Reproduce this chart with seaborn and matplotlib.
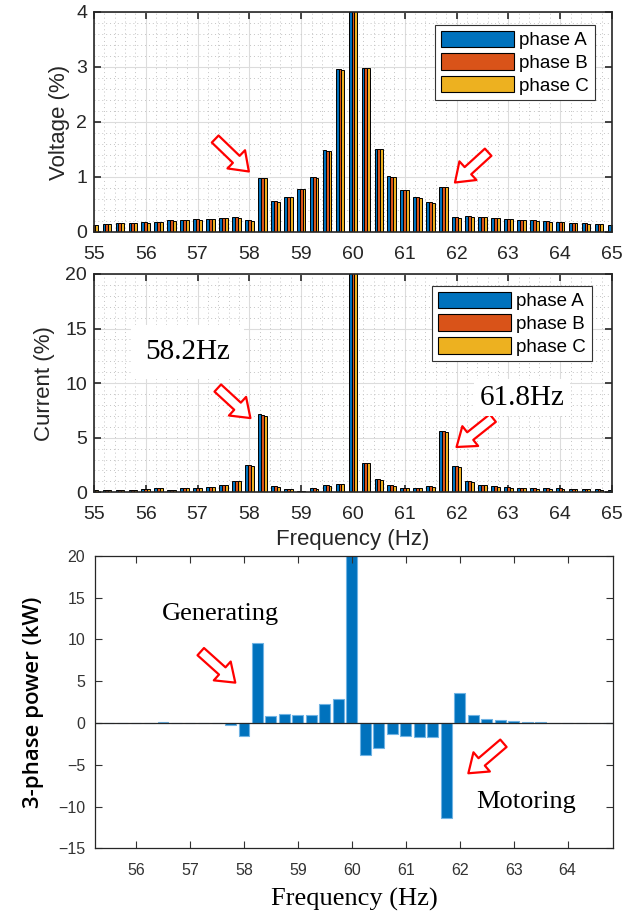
import numpy as np
import pandas as pd
import matplotlib
matplotlib.use('Agg')
import matplotlib.pyplot as plt
import seaborn as sns
from matplotlib.ticker import MultipleLocator
from matplotlib.patches import Patch

# frequency bins (Hz)
freq = [55.0, 55.25, 55.5, 55.75, 56.0, 56.25, 56.5, 56.75, 57.0, 57.25, 57.5, 57.75,
        58.0, 58.25, 58.5, 58.75, 59.0, 59.25, 59.5, 59.75, 60.0, 60.25, 60.5, 60.75,
        61.0, 61.25, 61.5, 61.75, 62.0, 62.25, 62.5, 62.75, 63.0, 63.25, 63.5, 63.75,
        64.0, 64.25, 64.5, 64.75, 65.0]

# voltage spectrum (%)
volt_a = [0.13, 0.15, 0.16, 0.165, 0.18, 0.18, 0.21, 0.22, 0.23, 0.24, 0.26, 0.27,
          0.21, 0.99, 0.56, 0.64, 0.79, 1.0, 1.49, 2.97, 5.0, 2.99, 1.51, 1.01,
          0.77, 0.63, 0.54, 0.82, 0.27, 0.29, 0.27, 0.25, 0.23, 0.22, 0.21, 0.2,
          0.18, 0.165, 0.16, 0.15, 0.13]
volt_b = [0.13, 0.15, 0.16, 0.16, 0.18, 0.18, 0.21, 0.22, 0.23, 0.24, 0.26, 0.27,
          0.21, 0.99, 0.56, 0.63, 0.78, 1.0, 1.48, 2.96, 5.0, 2.99, 1.5, 1.0,
          0.77, 0.63, 0.54, 0.82, 0.27, 0.29, 0.27, 0.25, 0.23, 0.22, 0.21, 0.2,
          0.18, 0.16, 0.16, 0.15, 0.13]
volt_c = [0.13, 0.14, 0.16, 0.16, 0.17, 0.18, 0.2, 0.21, 0.22, 0.24, 0.25, 0.26,
          0.2, 0.98, 0.55, 0.63, 0.78, 0.99, 1.48, 2.95, 5.0, 2.98, 1.5, 1.0,
          0.76, 0.62, 0.53, 0.81, 0.26, 0.28, 0.27, 0.25, 0.23, 0.21, 0.2, 0.19,
          0.18, 0.16, 0.15, 0.15, 0.13]

# current spectrum (%)
curr_a = [0.2, 0.2, 0.22, 0.25, 0.3, 0.35, 0.2, 0.35, 0.4, 0.5, 0.65, 1.05,
          2.5, 7.15, 0.55, 0.3, 0.15, 0.35, 0.65, 0.75, 30.0, 2.7, 1.2, 0.65,
          0.42, 0.42, 0.55, 5.65, 2.4, 1.0, 0.7, 0.55, 0.45, 0.42, 0.35, 0.35,
          0.35, 0.3, 0.3, 0.27, 0.25]
curr_b = [0.2, 0.2, 0.22, 0.25, 0.3, 0.35, 0.2, 0.35, 0.4, 0.5, 0.65, 1.05,
          2.5, 7.1, 0.55, 0.3, 0.15, 0.35, 0.65, 0.72, 30.0, 2.7, 1.2, 0.65,
          0.42, 0.42, 0.55, 5.6, 2.4, 1.0, 0.7, 0.55, 0.45, 0.42, 0.35, 0.35,
          0.35, 0.3, 0.3, 0.27, 0.25]
curr_c = [0.2, 0.2, 0.22, 0.25, 0.3, 0.35, 0.2, 0.35, 0.4, 0.5, 0.65, 1.0,
          2.45, 7.0, 0.5, 0.28, 0.15, 0.33, 0.62, 0.72, 30.0, 2.65, 1.15, 0.62,
          0.4, 0.4, 0.52, 5.55, 2.35, 0.98, 0.68, 0.52, 0.43, 0.4, 0.33, 0.33,
          0.33, 0.28, 0.28, 0.25, 0.25]

# 3-phase power (kW)
power = [0.0, 0.02, 0.02, 0.02, 0.03, 0.03, 0.08, 0.03, 0.04, 0.05, 0.05, -0.2,
         -1.5, 9.6, 0.88, 1.05, 0.96, 0.96, 2.3, 2.9, 25.0, -3.8, -3.0, -1.27,
         -1.5, -1.7, -1.63, -11.35, 3.55, 0.96, 0.48, 0.32, 0.2, 0.16, 0.16, 0.04,
         0.05, 0.05, 0.05, 0.04, 0.03]

phases = ['phase A', 'phase B', 'phase C']
phase_colors = ['#0072BD', '#D95319', '#EDB120']

volt_df = pd.DataFrame({'freq': freq * 3, 'val': volt_a + volt_b + volt_c,
                        'phase': np.repeat(phases, len(freq))})
curr_df = pd.DataFrame({'freq': freq * 3, 'val': curr_a + curr_b + curr_c,
                        'phase': np.repeat(phases, len(freq))})
pow_df = pd.DataFrame({'freq': freq, 'val': power})

plt.rcParams['font.family'] = ['Liberation Sans', 'DejaVu Sans']
txt_col = '#262626'

fig = plt.figure(figsize=(6.35, 9.13), dpi=100)
ax1 = fig.add_axes([0.148, 0.7459, 0.8157, 0.241])
ax2 = fig.add_axes([0.148, 0.4608, 0.8157, 0.2391])
ax3 = fig.add_axes([0.1496, 0.0709, 0.8157, 0.3202])


def phase_panel(ax, df, ymax, ystep, yminor, ylabel, ypad, leg_anchor):
    sns.barplot(data=df, x='freq', y='val', hue='phase', native_scale=True,
                palette=phase_colors, width=0.667, edgecolor='black', linewidth=0.7,
                saturation=1, errorbar=None, legend=False, ax=ax)
    ax.set_xlim(55, 65)
    ax.set_ylim(0, ymax)
    ax.xaxis.set_major_locator(MultipleLocator(1))
    ax.xaxis.set_minor_locator(MultipleLocator(0.2))
    ax.yaxis.set_major_locator(MultipleLocator(ystep))
    ax.yaxis.set_minor_locator(MultipleLocator(yminor))
    ax.grid(which='major', color='#dcdcdc', lw=0.8, ls='-')
    ax.grid(which='minor', color='#c4c4c4', lw=0.7, ls=(0, (1, 3)))
    ax.set_axisbelow(True)
    ax.tick_params(which='major', direction='in', top=True, right=True, length=5,
                   width=1.2, labelsize=14, colors=txt_col)
    ax.tick_params(axis='x', which='major', pad=10)
    ax.tick_params(axis='y', which='major', pad=5)
    ax.tick_params(which='minor', length=0)
    for s in ax.spines.values():
        s.set_color(txt_col)
        s.set_linewidth(1.2)
    ax.set_xlabel('')
    ax.set_ylabel(ylabel, fontsize=16, color=txt_col, labelpad=ypad)
    handles = [Patch(facecolor=c, edgecolor='black', lw=0.8) for c in phase_colors]
    leg = ax.legend(handles, phases, loc='upper right', bbox_to_anchor=leg_anchor,
                    borderaxespad=0, fontsize=13.5, handlelength=3.9, handleheight=1.0,
                    labelspacing=0.2, handletextpad=0.3, borderpad=0.3, fancybox=False,
                    framealpha=1, edgecolor='#333333')
    leg.get_frame().set_linewidth(0.8)


def hollow_arrow(ax, tail, tip):
    ax.annotate('', xy=tip, xytext=tail,
                arrowprops=dict(arrowstyle='simple,head_length=0.9,head_width=1.3,tail_width=0.5',
                                fc='white', ec='red', lw=1.6, mutation_scale=14,
                                shrinkA=0, shrinkB=0))


phase_panel(ax1, volt_df, 4, 1, 0.2, 'Voltage (%)', 4, (0.967, 0.941))
hollow_arrow(ax1, (57.34, 1.69), (57.99, 1.1))
hollow_arrow(ax1, (62.61, 1.45), (61.97, 0.9))

phase_panel(ax2, curr_df, 20, 5, 1, 'Current (%)', 7.5, (0.961, 0.945))
ax2.set_xlabel('Frequency (Hz)', fontsize=16, color=txt_col, labelpad=4)
hollow_arrow(ax2, (57.39, 9.55), (58.02, 6.8))
hollow_arrow(ax2, (62.70, 6.8), (62.0, 4.15))
ax2.text(56.81, 12.85, '58.2Hz', family='Liberation Serif', fontsize=21, ha='center',
         va='center', bbox=dict(fc='white', ec='none', pad=10))
ax2.text(63.26, 8.65, '61.8Hz', family='Liberation Serif', fontsize=21, ha='center',
         va='center', bbox=dict(fc='white', ec='none', pad=4))

# 3-phase power panel
sns.barplot(data=pow_df, x='freq', y='val', native_scale=True, color='#0072BD',
            saturation=1, width=0.8, edgecolor='#6fb3e3', linewidth=0.8,
            errorbar=None, ax=ax3)
ax3.axhline(0, color='#262626', lw=0.9)
ax3.set_xlim(55.24, 64.84)
ax3.set_ylim(-15, 20)
ax3.set_xticks([56, 57, 58, 59, 60, 61, 62, 63, 64])
ax3.yaxis.set_major_locator(MultipleLocator(5))
ax3.tick_params(direction='in', top=True, right=True, length=5, width=0.8,
                labelsize=11.5, colors='#333333')
ax3.tick_params(axis='x', pad=10.5)
ax3.tick_params(axis='y', pad=7)
for s in ax3.spines.values():
    s.set_color('#262626')
    s.set_linewidth(0.9)
ax3.set_xlabel('Frequency (Hz)', family='Liberation Serif', fontsize=19, color='black',
               labelpad=7)
ax3.set_ylabel('3-phase power (kW)', family='Open Sans', fontsize=16, fontweight='semibold',
               color='black', labelpad=10)
hollow_arrow(ax3, (57.2, 8.54), (57.84, 4.83))
hollow_arrow(ax3, (62.81, -2.43), (62.16, -6.02))
ax3.text(57.57, 13.05, 'Generating', family='Liberation Serif', fontsize=19,
         ha='center', va='center')
ax3.text(63.23, -9.43, 'Motoring', family='Liberation Serif', fontsize=19,
         ha='center', va='center')

fig.savefig('out.png', dpi=100)
